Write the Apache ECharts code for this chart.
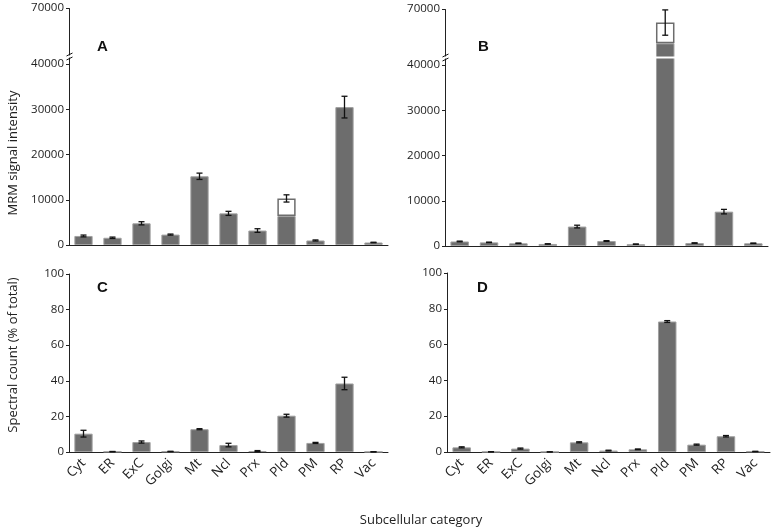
<!DOCTYPE html>
<html><head><meta charset="utf-8">
<script src="https://cdn.jsdelivr.net/npm/echarts@6/dist/echarts.min.js"></script>
<style>html,body{margin:0;padding:0;background:#fff}#c{width:775px;height:531px}</style>
</head><body><div id="c"></div>
<script>
const categories = ['Cyt','ER','ExC','Golgi','Mt','Ncl','Prx','Pld','PM','RP','Vac'];
// Panel A (MRM)
const mrmAGray  = [2000,1600,4800,2300,15200,7000,3200,6400,1000,30500,550];
const mrmAWhite = [0,0,0,0,0,0,0,3900,0,0,0];
const mrmAErr   = [200,150,350,120,700,450,400,800,120,2400,60];
// Panel B (MRM)
const mrmBGray  = [1000,800,600,450,4300,1100,400,62400,650,7600,600];
const mrmBWhite = [0,0,0,0,0,0,0,4600,0,0,0];
const mrmBErr   = [80,60,50,40,300,80,40,2800,50,500,50];
// Panel C, D (spectral count)
const specC = [10.3,0.2,5.6,0.3,12.8,3.9,0.5,20.4,5.1,38.5,0.1];
const errC  = [1.9,0.1,0.6,0.1,0.3,1.0,0.3,0.8,0.3,3.5,0.05];
const specD = [2.6,0.1,1.9,0.05,5.4,0.8,1.5,72.9,4.1,8.8,0.3];
const errD  = [0.3,0.05,0.3,0.05,0.3,0.2,0.2,0.5,0.3,0.4,0.1];
const mrmTicks = [0,10000,20000,30000,40000,70000];
const mrmBreak = {start: 41500, end: 59600};

const FONT = 'Open Sans';
const TXT = '#222';
const BAR = '#6d6d6d';

function errRender(params, api){
  const x = api.value(0), lo = api.value(1), hi = api.value(2);
  const a = api.coord([x, lo]), b = api.coord([x, hi]);
  const w = 3, st = {stroke:'#111', lineWidth:1.3};
  return {type:'group', children:[
    {type:'line', shape:{x1:a[0],y1:a[1],x2:b[0],y2:b[1]}, style:st},
    {type:'line', shape:{x1:a[0]-w,y1:a[1],x2:a[0]+w,y2:a[1]}, style:st},
    {type:'line', shape:{x1:b[0]-w,y1:b[1],x2:b[0]+w,y2:b[1]}, style:st}
  ]};
}
function errData(base, top, err){
  return base.map((v,i)=>{const m = v + (top ? top[i] : 0); return [i, Math.max(0,m-err[i]), m+err[i]];});
}

const grids = [
  {left:69, right:387, top:8, bottom:286},
  {left:445, right:7, top:9, bottom:285},
  {left:69, right:387, top:274, bottom:79},
  {left:447, right:5, top:273, bottom:79}
];

function xAx(i, showLabels){
  return {type:'category', gridIndex:i, data:categories,
    axisLine:{lineStyle:{color:TXT, width:1}},
    axisTick:{inside:true, length:5, lineStyle:{color:TXT}},
    axisLabel:{show:showLabels, interval:0, rotate:45, fontFamily:FONT, fontSize:13.5, color:TXT, margin:9}};
}
function yMrm(i){
  return {type:'value', gridIndex:i, min:0, max:70000,
    breaks:[{start:mrmBreak.start, end:mrmBreak.end, gap:'1%'}],
    breakArea:{show:true, itemStyle:{color:'#fff', borderColor:'#fff', borderWidth:0, opacity:1}, zigzagAmplitude:0},
    splitLine:{show:false},
    axisLine:{show:true, lineStyle:{color:TXT, width:1}},
    axisTick:{show:true, length:3, lineStyle:{color:TXT}, customValues:mrmTicks},
    axisLabel:{fontFamily:FONT, fontSize:11.5, color:TXT, margin:5, customValues:mrmTicks,
      formatter:(v)=>String(Math.round(v))}};
}
function ySpec(i){
  return {type:'value', gridIndex:i, min:0, max:100, interval:20,
    splitLine:{show:false},
    axisLine:{show:true, lineStyle:{color:TXT, width:1}},
    axisTick:{show:true, length:3, lineStyle:{color:TXT}},
    axisLabel:{fontFamily:FONT, fontSize:11.5, color:TXT, margin:5}};
}
const barStyle = {color:BAR, borderColor:'#a0a0a0', borderWidth:1};
function bar(i, data, stack){
  return {type:'bar', xAxisIndex:i, yAxisIndex:i, data:data, barWidth:'63%', stack:stack,
    itemStyle:barStyle, silent:true, z:2};
}
function whiteBar(i, data, stack){
  return {type:'bar', xAxisIndex:i, yAxisIndex:i, data:data.map(v=>v>0?v:null), barWidth:'63%', stack:stack,
    itemStyle:{color:'#fff', borderColor:BAR, borderWidth:1.5}, silent:true, z:2};
}
function errSeries(i, data){
  return {type:'custom', xAxisIndex:i, yAxisIndex:i, data:data, renderItem:errRender, z:5, silent:true,
    encode:{x:0, y:[1,2]}};
}
function breakMark(x, y){
  const st = {stroke:'#111', lineWidth:1};
  return [
    {type:'line', z:200, shape:{x1:x-3, y1:y-1, x2:x+3, y2:y-4}, style:st},
    {type:'line', z:200, shape:{x1:x-3, y1:y+3, x2:x+3, y2:y}, style:st}
  ];
}

const option = {
  animation:false,
  backgroundColor:'#fff',
  grid:grids,
  xAxis:[xAx(0,false), xAx(1,false), xAx(2,true), xAx(3,true)],
  yAxis:[yMrm(0), yMrm(1), ySpec(2), ySpec(3)],
  series:[
    bar(0, mrmAGray, 'a'), whiteBar(0, mrmAWhite, 'a'), errSeries(0, errData(mrmAGray, mrmAWhite, mrmAErr)),
    bar(1, mrmBGray, 'b'), whiteBar(1, mrmBWhite, 'b'), errSeries(1, errData(mrmBGray, mrmBWhite, mrmBErr)),
    bar(2, specC), errSeries(2, errData(specC, null, errC)),
    bar(3, specD), errSeries(3, errData(specD, null, errD))
  ],
  graphic:[
    {type:'text', x:97, y:47, style:{text:'A', font:'bold 15px Arial', fill:'#111', verticalAlign:'middle'}},
    {type:'text', x:478, y:47, style:{text:'B', font:'bold 15px Arial', fill:'#111', verticalAlign:'middle'}},
    {type:'text', x:97, y:288, style:{text:'C', font:'bold 15px Arial', fill:'#111', verticalAlign:'middle'}},
    {type:'text', x:477, y:288, style:{text:'D', font:'bold 15px Arial', fill:'#111', verticalAlign:'middle'}},
    {type:'text', x:13, y:153, rotation:Math.PI/2, style:{text:'MRM signal intensity', font:'13px "Open Sans"', fill:TXT, align:'center', verticalAlign:'middle'}},
    {type:'text', x:13, y:355, rotation:Math.PI/2, style:{text:'Spectral count (% of total)', font:'13px "Open Sans"', fill:TXT, align:'center', verticalAlign:'middle'}},
    {type:'text', x:421, y:520, style:{text:'Subcellular category', font:'13px "Open Sans"', fill:TXT, align:'center', verticalAlign:'middle'}}
  ].concat(breakMark(69.5, 57), breakMark(445.5, 58))
};
const chart = echarts.init(document.getElementById('c'), null, {renderer:'canvas'});
chart.setOption(option);
</script></body></html>
